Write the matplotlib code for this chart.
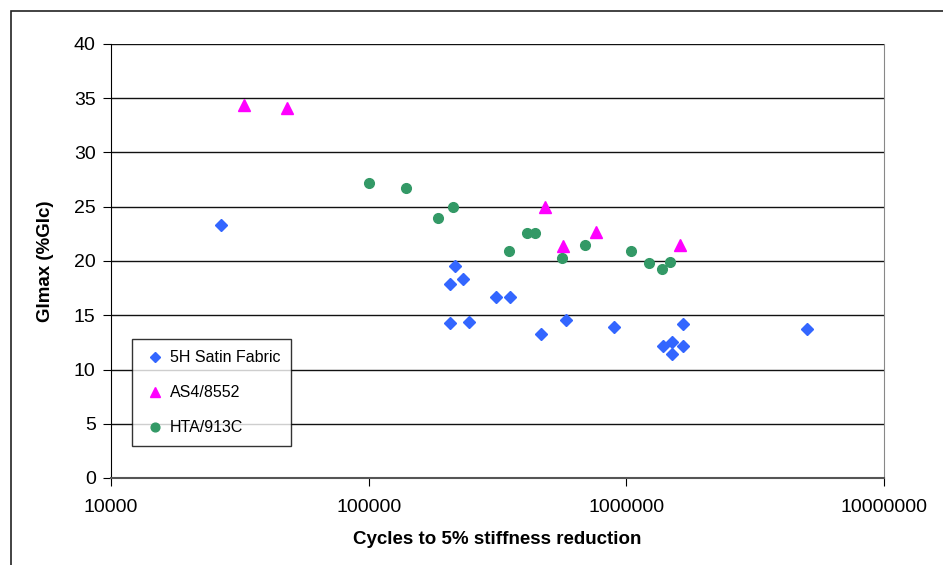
import matplotlib
matplotlib.use("Agg")
import matplotlib.pyplot as plt
from matplotlib.patches import Rectangle

plt.rcParams['font.family'] = ['Liberation Sans', 'DejaVu Sans']

# 5H Satin Fabric
satin_x = [26700, 216000, 207000, 232000, 312000, 353000, 207000, 245000, 468000,
           584000, 898000, 1387000, 1502000, 1502000, 1655000, 1655000, 5030000]
satin_y = [23.3, 19.5, 17.9, 18.3, 16.7, 16.7, 14.3, 14.4, 13.3,
           14.6, 13.9, 12.2, 12.5, 11.4, 12.2, 14.2, 13.7]

# AS4/8552
as4_x = [32800, 48100, 482000, 566000, 763000, 1615000]
as4_y = [34.4, 34.1, 25.0, 21.4, 22.7, 21.5]

# HTA/913C
hta_x = [100700, 139000, 185000, 212000, 351000, 412000, 442000, 565000,
         692000, 1040000, 1221000, 1380000, 1477000]
hta_y = [27.2, 26.7, 24.0, 25.0, 20.95, 22.6, 22.6, 20.25,
         21.5, 20.95, 19.8, 19.3, 19.9]

yticks = [0, 5, 10, 15, 20, 25, 30, 35, 40]
xticks = [10000, 100000, 1000000, 10000000]

fig = plt.figure(figsize=(9.43, 5.65), dpi=100)
ax = fig.add_axes([111/943, 1 - 478/565, (884-111)/943, (478-44)/565])

# outer frame of the chart area
fig.patches.append(Rectangle((11/943, -0.1), 1.1, 1 - 11/565 + 0.1,
                             transform=fig.transFigure, fill=False,
                             edgecolor='#222222', linewidth=1.2))

ax.plot(satin_x, satin_y, 'D', color='#3366FF', markersize=6, label='5H Satin Fabric', zorder=3)
ax.plot(as4_x, as4_y, '^', color='#FF00FF', markersize=8, label='AS4/8552', zorder=3)
ax.plot(hta_x, hta_y, 'o', color='#339966', markersize=7, label='HTA/913C', zorder=3)

ax.set_xscale('log')
ax.set_xlim(10000, 10000000)
ax.set_ylim(0, 40)
ax.set_yticks(yticks)
ax.set_xticks(xticks)
ax.set_xticklabels([str(v) for v in xticks])
ax.minorticks_off()
ax.yaxis.grid(True, color='#111111', linewidth=1)
ax.set_axisbelow(True)

ax.spines['top'].set_visible(False)
ax.spines['right'].set_color('#888888')
ax.spines['left'].set_color('black')
ax.spines['bottom'].set_color('#555555')
ax.spines['bottom'].set_linewidth(1.5)
ax.tick_params(axis='both', direction='out', length=6, labelsize=14, pad=5)
ax.tick_params(axis='x', pad=9)

ax.set_xlabel('Cycles to 5% stiffness reduction', fontsize=13.5, fontweight='bold', labelpad=11)
ax.set_ylabel('GImax (%GIc)', fontsize=13.5, fontweight='bold', labelpad=14)

leg = ax.legend(loc='upper left', bbox_to_anchor=(21/773, (478-339)/434),
                borderaxespad=0, fontsize=11.5, frameon=True, fancybox=False,
                edgecolor='black', labelspacing=1.25, handletextpad=0.15,
                borderpad=0.7, handlelength=1.5, markerscale=0.9)
leg.get_frame().set_linewidth(1)

fig.savefig('out.png', dpi=100)
